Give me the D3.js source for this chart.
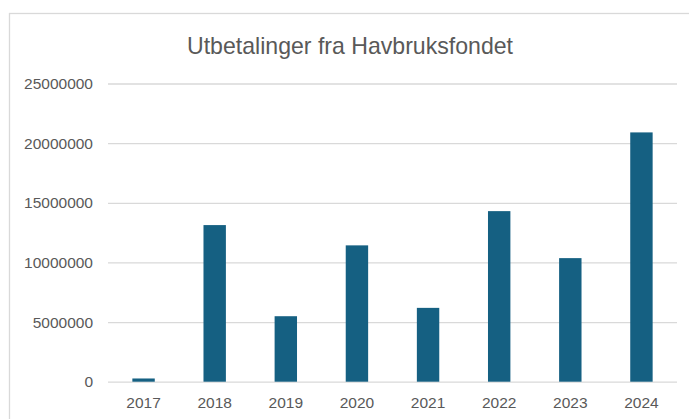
<!DOCTYPE html>
<html>
<head>
<meta charset="utf-8">
<script src="https://cdn.jsdelivr.net/npm/d3@7"></script>
<style>
  body { margin: 0; background: #fff; }
  svg { display: block; }
</style>
</head>
<body>
<figure id="bar" style="margin:0"></figure>
<script>
const years = ["2017", "2018", "2019", "2020", "2021", "2022", "2023", "2024"];
const payouts = [270000, 13130000, 5490000, 11430000, 6190000, 14300000, 10360000, 20900000];
const yTicks = [0, 5000000, 10000000, 15000000, 20000000, 25000000];

const width = 689, height = 419;
const plot = {left: 108, right: 677, top: 83.5, bottom: 381.7};

const svg = d3.select("figure#bar")
  .append("svg")
  .attr("width", width)
  .attr("height", height);

svg.append("rect")
  .attr("width", width)
  .attr("height", height)
  .attr("fill", "#fff");

// chart area border (runs off the right and bottom edges)
svg.append("rect")
  .attr("x", 9.5)
  .attr("y", 13.5)
  .attr("width", 700)
  .attr("height", 420)
  .attr("fill", "none")
  .attr("stroke", "#d9d9d9")
  .attr("stroke-width", 1.3);

// title
svg.append("text")
  .attr("x", 350)
  .attr("y", 53.5)
  .attr("text-anchor", "middle")
  .attr("fill", "#595959")
  .style("font-family", "'Liberation Sans Narrow', 'Liberation Sans', Arial, sans-serif")
  .style("font-size", "24px")
  .attr("textLength", 326)
  .attr("lengthAdjust", "spacingAndGlyphs")
  .text("Utbetalinger fra Havbruksfondet");

const x = d3.scaleBand()
  .domain(years)
  .range([plot.left, plot.right])
  .paddingInner(0.685)
  .paddingOuter(0.3425);

const y = d3.scaleLinear()
  .domain([0, 25000000])
  .range([plot.bottom, plot.top]);

// gridlines + y labels
const yAxis = svg.append("g")
  .attr("transform", "translate(" + plot.left + ",0)")
  .call(d3.axisLeft(y)
    .tickValues(yTicks)
    .tickFormat(d3.format("d"))
    .tickSize(-(plot.right - plot.left))
    .tickPadding(15));
yAxis.select(".domain").remove();
yAxis.selectAll("line")
  .attr("stroke", "#d9d9d9")
  .attr("stroke-width", 1.3);
yAxis.selectAll("text")
  .attr("fill", "#595959")
  .style("font-family", "'Liberation Sans', Arial, sans-serif")
  .style("font-size", "15.5px");

// bars
svg.selectAll("bars")
  .data(years)
  .enter()
  .append("rect")
  .attr("x", d => x(d))
  .attr("y", (d, i) => y(payouts[i]))
  .attr("width", x.bandwidth())
  .attr("height", (d, i) => y(0) - y(payouts[i]))
  .attr("fill", "#156082");

// x labels
const xAxis = svg.append("g")
  .attr("transform", "translate(0," + plot.bottom + ")")
  .call(d3.axisBottom(x).tickSize(0).tickPadding(15));
xAxis.select(".domain").remove();
xAxis.selectAll("text")
  .attr("fill", "#595959")
  .style("font-family", "'Liberation Sans', Arial, sans-serif")
  .style("font-size", "15.5px");
</script>
</body>
</html>
